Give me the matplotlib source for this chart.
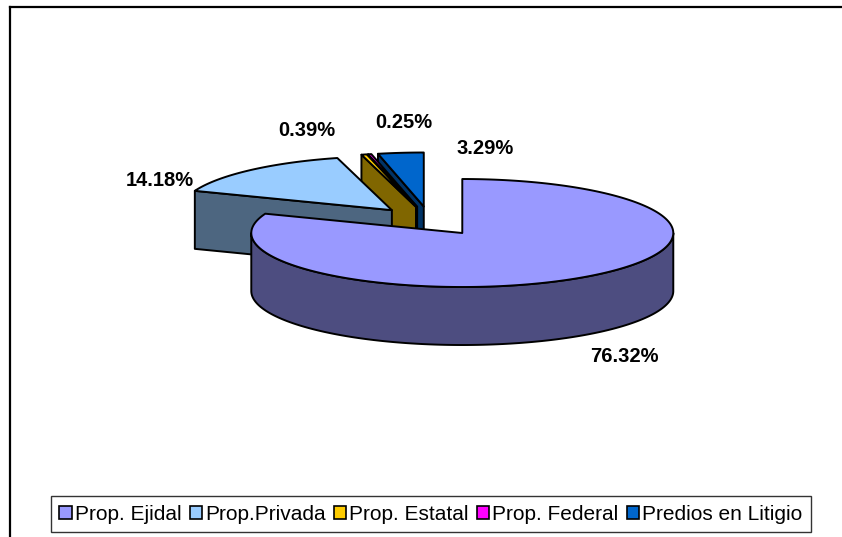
import numpy as np
import matplotlib.pyplot as plt
from matplotlib.patches import Polygon, Rectangle

plt.rcParams['font.family'] = ['Liberation Sans', 'DejaVu Sans']

# tenencia de la tierra (porcentajes)
categories = ['Prop. Ejidal', 'Prop.Privada', 'Prop. Estatal', 'Prop. Federal', 'Predios en Litigio']
values = [76.32, 14.18, 0.39, 0.25, 3.29]
labels = ['76.32%', '14.18%', '0.39%', '0.25%', '3.29%']

top_colors = ['#9999FF', '#99CCFF', '#FFCC00', '#FF00FF', '#0066CC']
side_colors = ['#4D4D80', '#4D6680', '#806600', '#800080', '#003366']
label_pos = [(624, 357), (160, 181), (307, 131), (404, 123), (485, 148)]

W, H = 842, 537
fig = plt.figure(figsize=(W / 100, H / 100), dpi=100)
ax = fig.add_axes([0, 0, 1, 1])
ax.set_xlim(0, W)
ax.set_ylim(H, 0)
ax.axis('off')

# pie geometry in pixels
cx, cy = 430, 221
rx, ry, depth = 211, 54, 58
explode = 0.27
lw = 1.4


def rim(x0, y0, t):
    t = np.radians(t)
    return x0 + rx * np.cos(t), y0 - ry * np.sin(t)


def arc(x0, y0, t1, t2, n=200):
    ts = np.linspace(t1, t2, n)
    xs, ys = rim(x0, y0, ts)
    return list(zip(xs, ys))


def add_poly(pts, fc):
    ax.add_patch(Polygon(pts, closed=True, fc=fc, ec='black', lw=lw, joinstyle='round'))


# slices go clockwise from 12 o'clock
total = float(sum(values))
spans = [360.0 * v / total for v in values]
starts = 90.0 - np.concatenate([[0], np.cumsum(spans)[:-1]])

slices = []
for i, (a, s) in enumerate(zip(starts, spans)):
    b = a - s
    bis = np.radians((a + b) / 2)
    sx = cx + explode * rx * np.cos(bis)
    sy = cy - explode * ry * np.sin(bis)
    slices.append((np.sin(bis), i, a, b, sx, sy))

# back slices first
slices.sort(key=lambda q: -q[0])

for _, i, a, b, sx, sy in slices:
    # radial faces
    for t, visible in ((a, np.cos(np.radians(a)) < -1e-9), (b, np.cos(np.radians(b)) > 1e-9)):
        if visible:
            px, py = rim(sx, sy, t)
            add_poly([(sx, sy), (px, py), (px, py + depth), (sx, sy + depth)], side_colors[i])
    # front part of the outer wall
    for k in range(-2, 3):
        lo = max(b, -180 + 360 * k)
        hi = min(a, 360 * k)
        if hi > lo:
            upper = arc(sx, sy, lo, hi)
            lower = [(x, y + depth) for x, y in upper[::-1]]
            add_poly(upper + lower, side_colors[i])
    # top face
    add_poly([(sx, sy)] + arc(sx, sy, a, b), top_colors[i])

for lab, (x, y) in zip(labels, label_pos):
    ax.text(x, y, lab, ha='center', va='center', fontsize=14.5, fontweight='bold', color='black')

# chart area border
ax.plot([10, 10], [H, 7], color='black', lw=1.6)
ax.plot([10, W], [7, 7], color='black', lw=1.6)

handles = [Rectangle((0, 0), 1, 1, fc=c, ec='black', lw=1.2) for c in top_colors]
leg = ax.legend(handles, categories, ncol=5, loc='lower center',
                bbox_to_anchor=(431 / W, 1 - 532 / H), fontsize=15,
                frameon=True, fancybox=False, edgecolor='black',
                handlelength=0.6, handleheight=0.6, handletextpad=0.15,
                columnspacing=0.38, borderpad=0.4, borderaxespad=0)
leg.get_frame().set_linewidth(1.0)

fig.savefig('out.png', dpi=100)
